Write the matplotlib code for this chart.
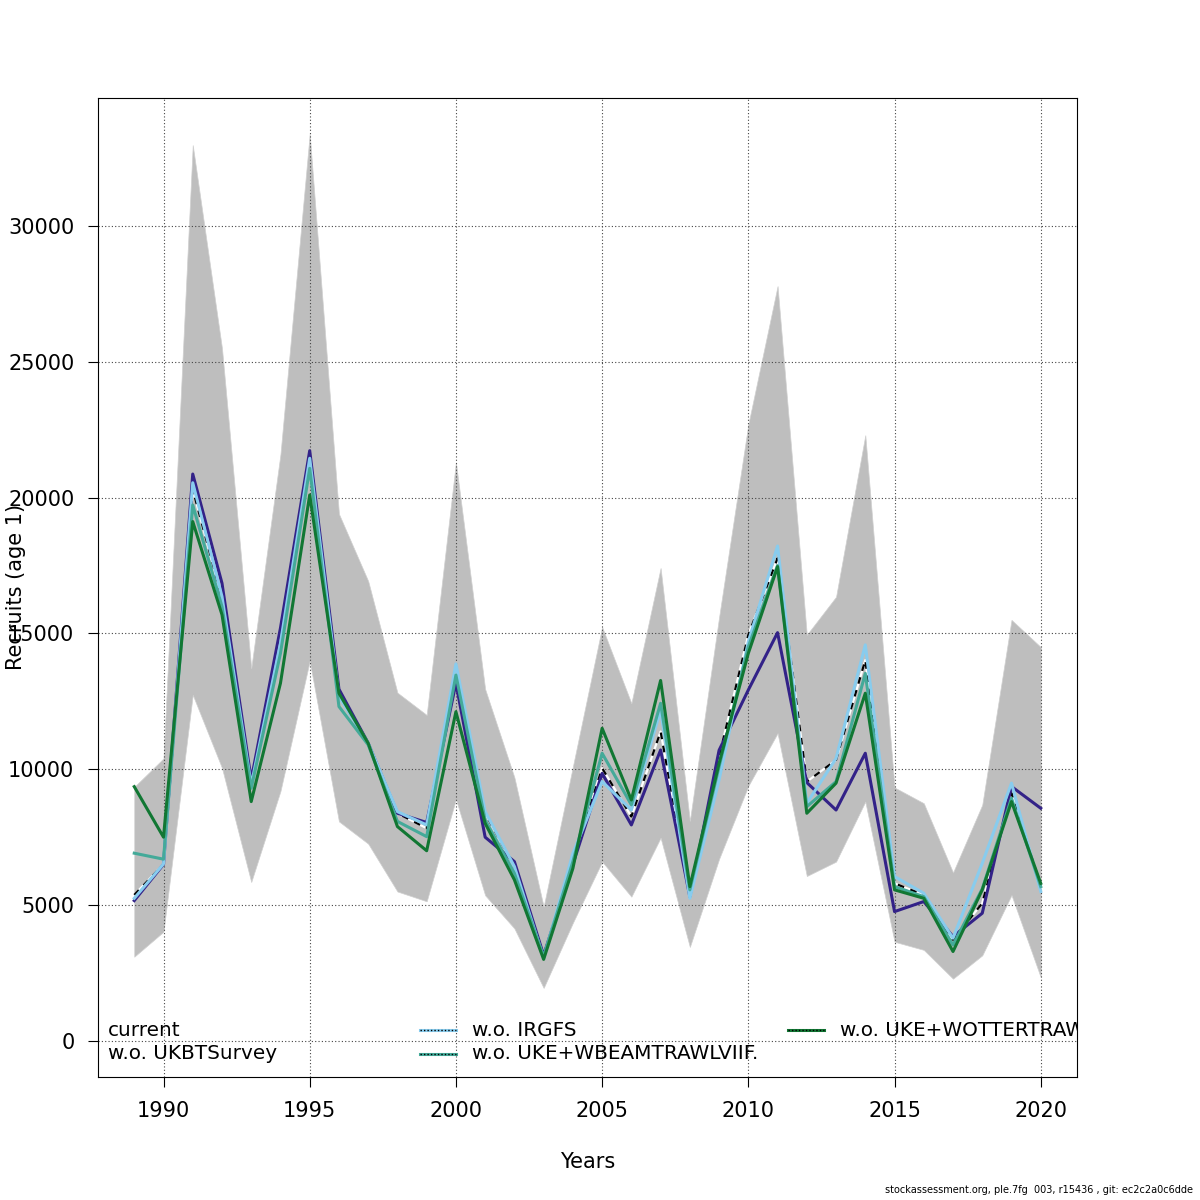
import matplotlib
matplotlib.use("Agg")
import matplotlib.pyplot as plt
import numpy as np

plt.rcParams['font.family'] = ['DejaVu Sans']

years = np.arange(1989, 2021)

# confidence band of the current run
upper = [9350, 10400, 32980, 25500, 13720, 21600, 33390, 19400, 16930, 12820,
         12000, 21300, 12950, 9700, 4940, 10100, 15240, 12430, 17410, 8100,
         15600, 22700, 27790, 14950, 16350, 22300, 9330, 8750, 6200, 8690,
         15500, 14500]
lower = [3100, 4020, 12740, 10050, 5850, 9200, 13990, 8080, 7260, 5500,
         5140, 8900, 5360, 4140, 1950, 4350, 6600, 5310, 7480, 3460,
         6700, 9390, 11330, 6070, 6600, 8810, 3650, 3350, 2290, 3150,
         5370, 2340]

current = [5375, 6500, 20300, 16300, 9400, 14600, 21400, 12700, 10950, 8380,
           7830, 13500, 8380, 6420, 3100, 6700, 10040, 8260, 11390, 5400,
           10470, 14950, 17770, 9545, 10340, 14020, 5800, 5370, 3720, 5070,
           9120, 5700]
wo_ukbt = [5165, 6500, 20870, 16850, 9610, 15200, 21730, 12950, 10960, 8380,
           8040, 13170, 7500, 6600, 3150, 6500, 9850, 7950, 10710, 5310,
           10700, 12920, 15030, 9510, 8500, 10590, 4760, 5130, 3840, 4700,
           9365, 8565]
wo_irgfs = [5250, 6515, 20550, 16360, 9420, 14640, 21450, 12680, 10960, 8440,
            7950, 13880, 8440, 6420, 3040, 6900, 9550, 8500, 12180, 5250,
            9610, 14700, 18220, 8750, 10400, 14580, 6050, 5435, 3780, 6540,
            9490, 5500]
wo_beam = [6910, 6690, 19730, 15990, 9300, 14270, 21080, 12310, 10900, 8080,
           7520, 13470, 8130, 6170, 3100, 6600, 10590, 8690, 12430, 5560,
           10100, 14510, 17500, 8625, 9545, 13530, 5680, 5310, 3530, 5600,
           8935, 5680]
wo_otter = [9360, 7500, 19120, 15690, 8810, 13170, 20100, 12800, 10960, 7890,
            7000, 12120, 8010, 5930, 3000, 6350, 11510, 8870, 13270, 5680,
            10220, 14270, 17460, 8380, 9490, 12800, 5560, 5250, 3290, 5560,
            8810, 5800]

col_ukbt = '#332288'
col_irgfs = '#88CCEE'
col_beam = '#44AA99'
col_otter = '#117733'

fig = plt.figure(figsize=(12, 12), dpi=100)
ax = fig.add_axes([98 / 1200, 123 / 1200, 979 / 1200, 979 / 1200])

ax.fill_between(years, lower, upper, color='#BEBEBE', lw=0.5, edgecolor='#D0D0D0', zorder=1)

grid_kw = dict(color='#444444', lw=0.8, linestyle=(0, (1, 2)), zorder=2)
for gx in range(1990, 2021, 5):
    ax.axvline(gx, **grid_kw)
for gy in range(0, 30001, 5000):
    ax.axhline(gy, **grid_kw)

lw = 2.2
ax.plot(years, current, color='white', lw=1.6, zorder=3)
ax.plot(years, current, color='black', lw=1.6, dashes=(3, 3), zorder=3)
ax.plot(years, wo_ukbt, color=col_ukbt, lw=lw, zorder=4)
ax.plot(years, wo_irgfs, color=col_irgfs, lw=lw, zorder=4)
ax.plot(years, wo_beam, color=col_beam, lw=lw, zorder=4)
ax.plot(years, wo_otter, color=col_otter, lw=lw, zorder=4)

ax.set_xlim(1987.76, 2021.24)
ax.set_ylim(-1330, 34715)
ax.set_xticks(range(1990, 2021, 5))
ax.set_yticks(range(0, 30001, 5000))
ax.tick_params(labelsize=15, length=7, width=0.8, direction='out', pad=10)
for s in ax.spines.values():
    s.set_linewidth(0.8)

fig.text(588 / 1200, 1 - 1162 / 1200, 'Years', fontsize=15, ha='center', va='center')
fig.text(16 / 1200, 1 - 587 / 1200, 'Recruits (age 1)', fontsize=15,
         rotation=90, ha='center', va='center')

# legend drawn by hand, clipped at the plot box like the original
tfs = 14.4
ax.text(0.0102, 0.048, 'current', transform=ax.transAxes, fontsize=tfs,
        va='center', ha='left', clip_on=True, zorder=5)
ax.text(0.0102, 0.0235, 'w.o. UKBTSurvey', transform=ax.transAxes, fontsize=tfs,
        va='center', ha='left', clip_on=True, zorder=5)
entries = [
    (0.329, 0.048, col_irgfs, 'w.o. IRGFS'),
    (0.329, 0.0235, col_beam, 'w.o. UKE+WBEAMTRAWLVIIF.'),
    (0.705, 0.048, col_otter, 'w.o. UKE+WOTTERTRAWL'),
]
for lx, ly, c, lab in entries:
    ax.plot([lx, lx + 0.037], [ly, ly], transform=ax.transAxes, color=c, lw=2.2,
            clip_on=True, zorder=5)
    ax.plot([lx, lx + 0.037], [ly, ly], transform=ax.transAxes, color='black', lw=1.0,
            linestyle=(0, (1, 1.5)), clip_on=True, zorder=6)
    ax.text(lx + 0.053, ly, lab, transform=ax.transAxes, fontsize=tfs,
            va='center', ha='left', clip_on=True, zorder=5)

fig.text(0.994, 0.004, 'stockassessment.org, ple.7fg  003, r15436 , git: ec2c2a0c6dde',
         fontsize=7, ha='right', va='bottom')

fig.savefig('out.png', dpi=100)
